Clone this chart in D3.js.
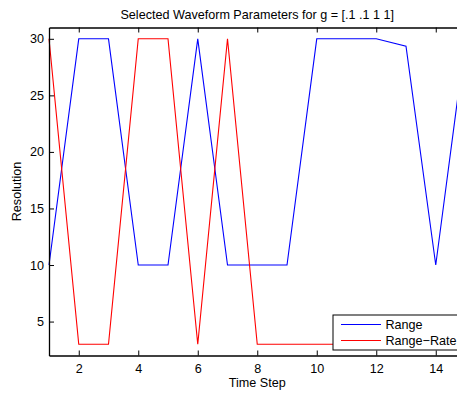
<!DOCTYPE html>
<html>
<head>
<meta charset="utf-8">
<script src="https://cdn.jsdelivr.net/npm/d3@7"></script>
<style>
  body { margin: 0; background: #fff; }
  svg { display: block; overflow: hidden; }
  text { font-family: "Liberation Sans", Arial, Helvetica, sans-serif; fill: #000; }
</style>
</head>
<body>
<div id="chart"></div>
<script>
const timeSteps = [1, 2, 3, 4, 5, 6, 7, 8, 9, 10, 11, 12, 13, 14, 15];
const rangeValues = [10, 30, 30, 10, 10, 30, 10, 10, 10, 30, 30, 30, 29.35, 10, 30];
const rangeRateValues = [30, 3, 3, 30, 30, 3, 30, 3, 3, 3, 3, 3, 3, 3, 3];
const xTicks = [2, 4, 6, 8, 10, 12, 14];
const yTicks = [5, 10, 15, 20, 25, 30];
const seriesNames = ["Range", "Range\u2212Rate"];
const seriesColors = ["#0000ff", "#ff0000"];

const width = 457;
const height = 393;
const margin = { top: 27.5, left: 49, bottom: 37.5 };
const plotRight = 465.5; // axes run past the picture edge, as in the original
const fontSize = "12.6px";

const svg = d3.select("#chart")
  .append("svg")
  .attr("width", width)
  .attr("height", height);

const x = d3.scaleLinear().domain([1, 15]).range([margin.left, plotRight]);
const y = d3.scaleLinear().domain([2, 31]).range([height - margin.bottom, margin.top]);

// series lines
const series = [rangeValues, rangeRateValues];
series.forEach((vals, i) => {
  const line = d3.line()
    .x((d, j) => x(timeSteps[j]))
    .y((d) => y(d));
  svg.append("path")
    .datum(vals)
    .attr("fill", "none")
    .attr("stroke", seriesColors[i])
    .attr("stroke-width", 1.1)
    .attr("d", line);
});

// axes (MATLAB style: inward ticks, mirrored on top)
const tickLen = 5;
const bottomAxis = svg.append("g")
  .attr("transform", `translate(0,${y(2)})`)
  .call(d3.axisBottom(x).tickValues(xTicks).tickSizeInner(-tickLen).tickSizeOuter(0).tickPadding(9));
const topAxis = svg.append("g")
  .attr("transform", `translate(0,${y(31)})`)
  .call(d3.axisTop(x).tickValues(xTicks).tickSizeInner(-tickLen).tickSizeOuter(0));
topAxis.selectAll(".tick text").remove();
const leftAxis = svg.append("g")
  .attr("transform", `translate(${x(1)},0)`)
  .call(d3.axisLeft(y).tickValues(yTicks).tickSizeInner(-tickLen).tickSizeOuter(0).tickPadding(5));

[bottomAxis, topAxis, leftAxis].forEach((g) => {
  g.select(".domain").attr("stroke", "#000").attr("stroke-width", 1.3);
  g.selectAll(".tick line").attr("stroke", "#000");
  g.selectAll("text").style("font-size", fontSize).attr("fill", "#000");
});

// title and axis labels
svg.append("text")
  .attr("x", (margin.left + plotRight) / 2)
  .attr("y", 19)
  .attr("text-anchor", "middle")
  .style("font-size", fontSize)
  .text("Selected Waveform Parameters for g = [.1 .1 1 1]");

svg.append("text")
  .attr("x", (margin.left + plotRight) / 2)
  .attr("y", 387)
  .attr("text-anchor", "middle")
  .style("font-size", fontSize)
  .text("Time Step");

svg.append("text")
  .attr("transform", `translate(21,${(margin.top + height - margin.bottom) / 2}) rotate(-90)`)
  .attr("text-anchor", "middle")
  .style("font-size", fontSize)
  .text("Resolution");

// legend
const legend = svg.append("g").attr("transform", "translate(333,315)");
legend.append("rect")
  .attr("width", 150)
  .attr("height", 35)
  .attr("fill", "#fff")
  .attr("stroke", "#000")
  .attr("stroke-width", 1);
seriesNames.forEach((name, i) => {
  const ly = 9.5 + i * 16;
  legend.append("line")
    .attr("x1", 8).attr("x2", 48)
    .attr("y1", ly).attr("y2", ly)
    .attr("stroke", seriesColors[i]);
  legend.append("text")
    .attr("x", 52.5)
    .attr("y", ly + 4.5)
    .style("font-size", fontSize)
    .text(name);
});
</script>
</body>
</html>
